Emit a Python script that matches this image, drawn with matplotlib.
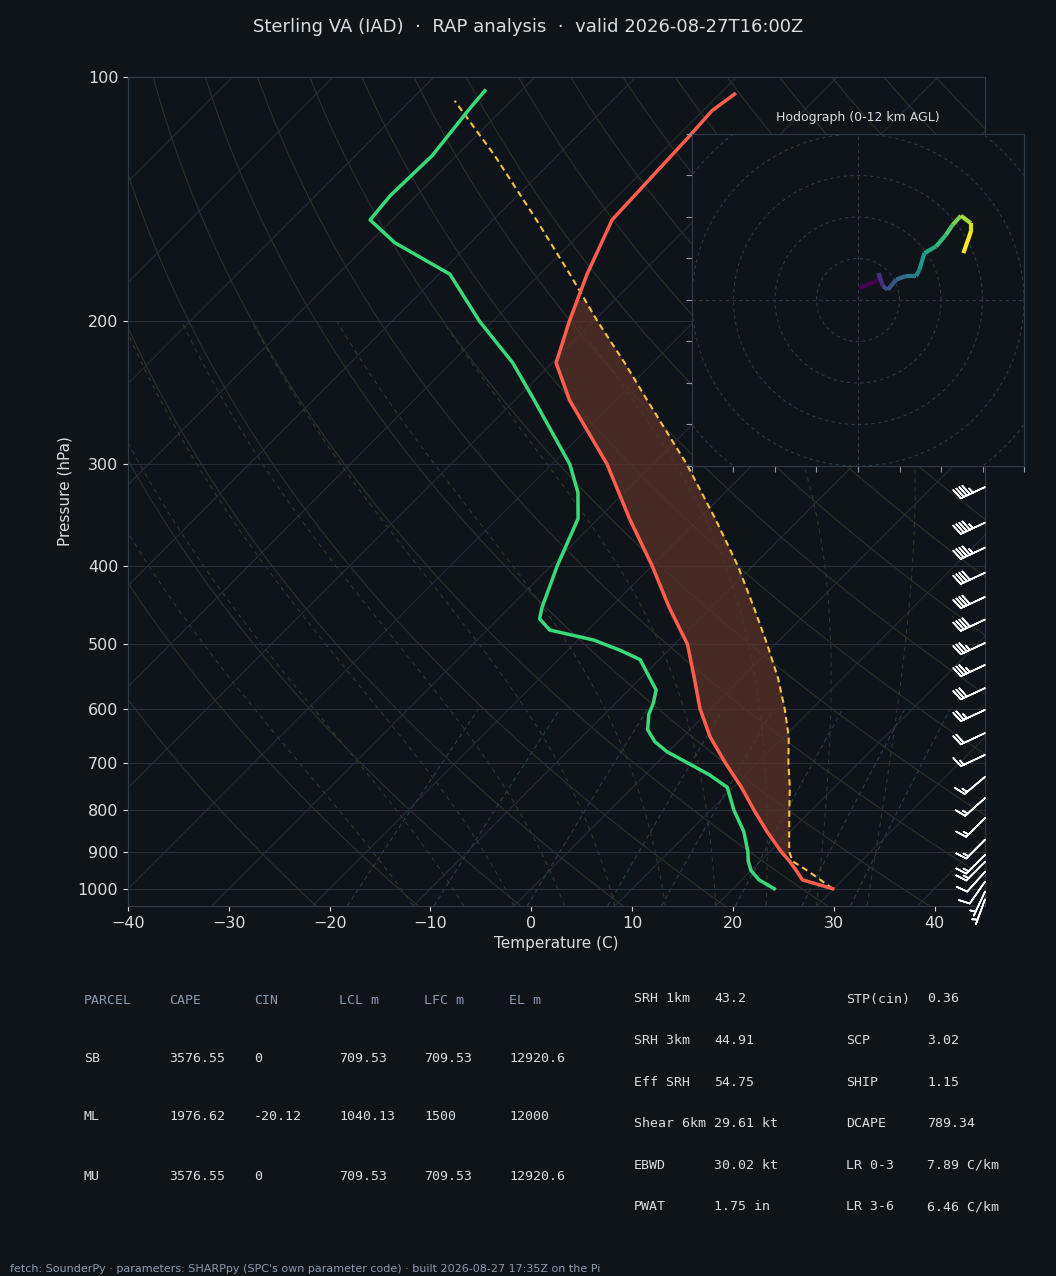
import numpy as np
import matplotlib
matplotlib.use("Agg")
import matplotlib.pyplot as plt
from matplotlib.collections import LineCollection

# ---------------- data ----------------
p_env = [1000, 975, 950, 925, 900, 850, 800, 750, 700, 650, 600, 550, 500, 450, 400, 350, 300, 250, 225, 200, 175, 150, 119, 110, 105]
t_env = [29.9, 26.0, 24.5, 22.9, 21.1, 17.7, 14.3, 10.8, 6.8, 2.7, -1.1, -4.7, -8.7, -14.2, -20.0, -26.9, -34.5, -44.6, -49.6, -52.4, -55.3, -58.2, -58.8, -59.1, -58.5]
p_dew = [1000, 975, 950, 925, 900, 850, 800, 750, 724, 703, 678, 659, 637, 610, 590, 569, 522, 508, 494, 480, 465, 450, 400, 350, 325, 300, 250, 225, 200, 175, 160, 150, 140, 125, 110, 104]
td_env = [24.1, 21.7, 20.0, 18.8, 17.8, 15.4, 12.3, 9.4, 6.4, 3.5, -0.1, -2.3, -4.2, -5.6, -6.3, -7.3, -11.9, -14.9, -18.4, -23.8, -25.9, -26.8, -29.4, -32.0, -34.6, -38.2, -48.1, -53.9, -61.3, -68.9, -77.5, -82.2, -82.6, -82.4, -83.3, -83.6]
p_parcel = [1000, 950, 925, 900, 850, 800, 750, 700, 650, 600, 550, 500, 450, 400, 350, 300, 250, 225, 200, 175, 150, 125, 107]
t_parcel = [29.9, 25.6, 23.2, 21.9, 19.9, 17.8, 15.6, 13.05, 10.5, 7.3, 3.6, -0.8, -5.8, -11.5, -18.4, -26.6, -36.9, -42.8, -49.6, -57.0, -65.7, -76.2, -85.6]

barb_p = [320, 354, 380, 408, 437, 466, 498, 530, 566, 602, 643, 684, 728, 773, 818, 870, 908, 926, 953, 980, 1008, 1030]
barb_spd = [45, 45, 45, 40, 40, 40, 35, 35, 30, 25, 20, 15, 15, 15, 15, 15, 15, 15, 12, 10, 5, 5]
barb_dir = [245, 245, 245, 245, 245, 245, 245, 245, 245, 245, 245, 245, 230, 228, 225, 225, 225, 225, 222, 215, 205, 200]

hodo_u = [0.4, 5.2, 5.0, 6.0, 7.2, 9.2, 11.6, 14.0, 14.8, 16.0, 18.8, 21.2, 22.8, 24.8, 27.2, 27.2, 25.4]
hodo_v = [2.9, 4.9, 6.5, 3.3, 2.5, 4.9, 5.8, 5.8, 7.3, 11.3, 12.9, 15.7, 18.1, 20.3, 18.5, 16.5, 11.3]

tbl_head = ["PARCEL", "CAPE", "CIN", "LCL m", "LFC m", "EL m"]
tbl_rows = [["SB", "3576.55", "0", "709.53", "709.53", "12920.6"],
            ["ML", "1976.62", "-20.12", "1040.13", "1500", "12000"],
            ["MU", "3576.55", "0", "709.53", "709.53", "12920.6"]]
idx1_lab = ["SRH 1km", "SRH 3km", "Eff SRH", "Shear 6km", "EBWD", "PWAT"]
idx1_val = ["43.2", "44.91", "54.75", "29.61 kt", "30.02 kt", "1.75 in"]
idx2_lab = ["STP(cin)", "SCP", "SHIP", "DCAPE", "LR 0-3", "LR 3-6"]
idx2_val = ["0.36", "3.02", "1.15", "789.34", "7.89 C/km", "6.46 C/km"]

BG = "#0f141a"
FG = "#d8dde3"
MUTED = "#8a9bb0"
SKEW = 34.9

def skx(t, p):
    return np.asarray(t) + SKEW * np.log(1000.0 / np.asarray(p, dtype=float))

fig = plt.figure(figsize=(10.56, 12.76), dpi=100, facecolor=BG)
ax = fig.add_axes([0.1212, 0.29, 0.8116, 0.6497], facecolor=BG)
ax.set_yscale("log")
ax.set_ylim(1050, 100)
ax.set_xlim(-40, 45)

pp = np.logspace(np.log10(1050), 2, 200)
for T in range(-120, 50, 10):
    ax.plot(skx(np.full_like(pp, T), pp), pp, color="#232c36", lw=0.8, zorder=1)
for th in range(250, 480, 10):
    T = th * (pp / 1000.0) ** 0.286 - 273.15
    ax.plot(skx(T, pp), pp, color="#2c3129", lw=0.8, zorder=1)
def es(T):
    return 6.112 * np.exp(17.67 * T / (T + 243.5))
for T0 in range(-10, 40, 5):
    T = float(T0); ps = [1050.0]; ts = [T]
    p = 1050.0
    while p > 200:
        dp = -5.0
        Tk = T + 273.15
        rs = 0.622 * es(T) / (p - es(T))
        L = 2.5e6
        g = (287 * Tk + L * rs) / (1004 + L * L * rs * 0.622 / (287 * Tk * Tk)) / p
        T += g * dp; p += dp
        ps.append(p); ts.append(T)
    ax.plot(skx(ts, ps), ps, color="#363628", lw=0.8, ls=(0, (4, 4)), zorder=1)
pm = np.linspace(1050, 600, 50)
for w in [1, 2, 4, 7, 10, 16, 24, 32]:
    e = w * pm / (622.0 + w)
    lnr = np.log(e / 6.112)
    Td = 243.5 * lnr / (17.67 - lnr)
    ax.plot(skx(Td, pm), pm, color="#26404a", lw=0.8, ls=(0, (4, 3)), zorder=1)

ax.yaxis.grid(True, which="major", color="#26303b", lw=0.8)
yt = [100, 200, 300, 400, 500, 600, 700, 800, 900, 1000]
ax.set_yticks(yt)
ax.set_yticklabels([str(v) for v in yt])
ax.minorticks_off()
ax.set_xticks(range(-40, 45, 10))

pf = np.logspace(np.log10(905), np.log10(188), 200)
te = np.interp(np.log(pf), np.log(p_env[::-1]), t_env[::-1])
tp = np.interp(np.log(pf), np.log(p_parcel[::-1]), t_parcel[::-1])
ax.fill_betweenx(pf, skx(te, pf), skx(tp, pf), where=tp > te, color="#5a3228", alpha=0.75, lw=0, zorder=2)

ax.plot(skx(t_parcel, p_parcel), p_parcel, color="#f4c242", lw=1.5, ls=(0, (3, 2)), zorder=3)
ax.plot(skx(t_env, p_env), p_env, color="#ff5e4d", lw=2.5, zorder=4, solid_joinstyle="round")
ax.plot(skx(td_env, p_dew), p_dew, color="#3ad97a", lw=2.5, zorder=4, solid_joinstyle="round")

spd = np.array(barb_spd, float); d = np.radians(barb_dir)
u = -spd * np.sin(d); v = -spd * np.cos(d)
ax.barbs(np.full(len(barb_p), 45.0), barb_p, u, v, color="white", length=6.2, linewidth=1.2, clip_on=False, zorder=6)

for s in ax.spines.values():
    s.set_color("#2e3a48")
ax.tick_params(colors=FG, labelsize=11.5)
for t in ax.get_xticklabels() + ax.get_yticklabels():
    t.set_color(FG)
ax.set_xlabel("Temperature (C)", color=FG, fontsize=11)
ax.set_ylabel("Pressure (hPa)", color=FG, fontsize=11)

fig.text(0.5, 0.979, "Sterling VA (IAD)  ·  RAP analysis  ·  valid 2026-08-27T16:00Z", color=FG, fontsize=13, ha="center", va="center")

hx = fig.add_axes([0.6553, 0.6348, 0.3144, 0.2602], facecolor=BG, zorder=10)
hx.set_xlim(-40, 40); hx.set_ylim(-40, 40)
for r in [10, 20, 30, 40, 50]:
    a = np.linspace(0, 2 * np.pi, 200)
    hx.plot(r * np.cos(a), r * np.sin(a), color="#2e3a48", lw=0.8, ls=(0, (3, 3)))
hx.axhline(0, color="#2e3a48", lw=0.8, ls=(0, (3, 3)))
hx.axvline(0, color="#2e3a48", lw=0.8, ls=(0, (3, 3)))
pts = np.column_stack([hodo_u, hodo_v]).reshape(-1, 1, 2)
segs = np.concatenate([pts[:-1], pts[1:]], axis=1)
lc = LineCollection(segs, cmap="viridis", linewidths=3)
lc.set_array(np.arange(len(segs)))
hx.add_collection(lc)
hx.set_xticks(range(-40, 41, 10)); hx.set_yticks(range(-40, 41, 10))
hx.set_xticklabels([]); hx.set_yticklabels([])
hx.tick_params(colors="#8a9bb0", length=4)
for s in hx.spines.values():
    s.set_color("#2e3a48")
hx.set_title("Hodograph (0-12 km AGL)", color=FG, fontsize=9, pad=9)

mono = "DejaVu Sans Mono"
cols = [84, 169, 254, 339, 424, 509]
for c, h in zip(cols, tbl_head):
    fig.text(c / 1056, 1 - 1000 / 1276, h, color=MUTED, fontsize=9.5, family=mono, va="center")
for r, row in enumerate(tbl_rows):
    y = 1 - (1058 + r * 59) / 1276
    for c, val in zip(cols, row):
        fig.text(c / 1056, y, val, color=FG, fontsize=9.5, family=mono, va="center")
for i in range(6):
    y = 1 - (999 + i * 41.6) / 1276
    fig.text(634 / 1056, y, idx1_lab[i], color=FG, fontsize=9.5, family=mono, va="center")
    fig.text(714 / 1056, y, idx1_val[i], color=FG, fontsize=9.5, family=mono, va="center")
    fig.text(846 / 1056, y, idx2_lab[i], color=FG, fontsize=9.5, family=mono, va="center")
    fig.text(927 / 1056, y, idx2_val[i], color=FG, fontsize=9.5, family=mono, va="center")

fig.text(10 / 1056, 1 - 1269 / 1276, "fetch: SounderPy · parameters: SHARPpy (SPC's own parameter code) · built 2026-08-27 17:35Z on the Pi",
         color=MUTED, fontsize=8, va="center")

fig.savefig("out.png", dpi=100, facecolor=BG)
